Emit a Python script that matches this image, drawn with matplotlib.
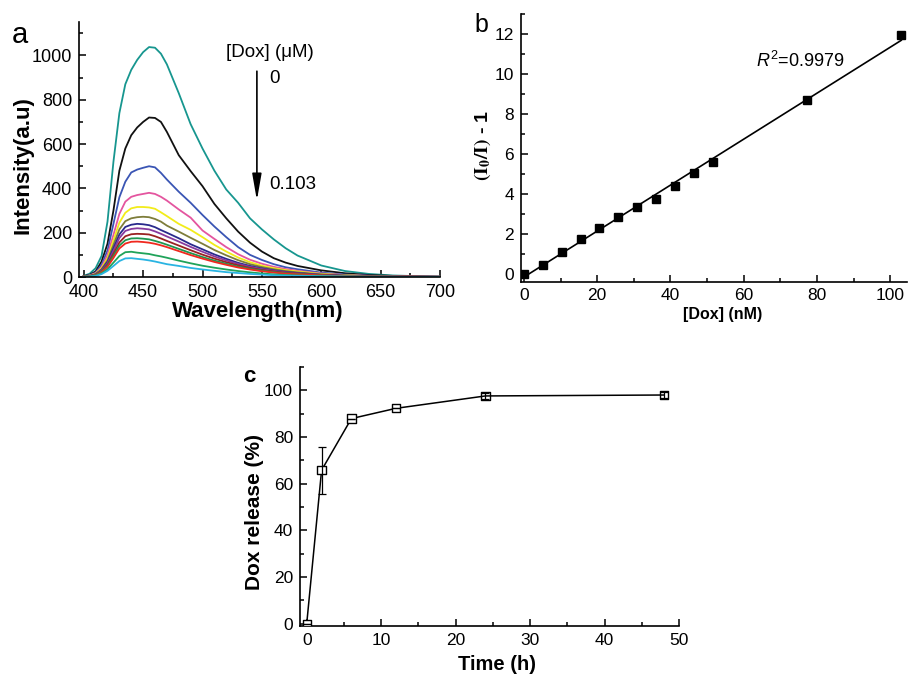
import numpy as np
import matplotlib
matplotlib.use("Agg")
import matplotlib.pyplot as plt
from matplotlib.ticker import MultipleLocator

plt.rcParams['font.family'] = ['Liberation Sans', 'DejaVu Sans']
plt.rcParams['mathtext.fontset'] = 'stix'
plt.rcParams['mathtext.rm'] = 'Liberation Sans'
plt.rcParams['mathtext.it'] = 'Liberation Sans:italic'
plt.rcParams['mathtext.bf'] = 'Liberation Sans:bold'

# ---------------- Panel a data: emission spectra ----------------
wavelength = [400, 405, 410, 415, 420, 425, 430, 435, 440, 445, 450, 455, 460, 465, 470,
              480, 490, 500, 510, 520, 530, 540, 550, 560, 570, 580, 600, 620, 640, 660, 680, 700]

spec_0 = [5, 15, 40, 95, 250, 520, 740, 870, 935, 980, 1015, 1038, 1035, 1008, 960,
          830, 690, 580, 480, 395, 335, 265, 215, 170, 130, 97, 52, 27, 14, 7, 4, 2]
spec_1 = [4, 10, 25, 70, 150, 300, 480, 580, 640, 675, 700, 720, 718, 700, 655,
          550, 478, 410, 330, 265, 205, 155, 115, 85, 65, 50, 30, 17, 9, 5, 3, 1]
spec_2 = [3, 8, 20, 55, 120, 240, 360, 430, 472, 485, 493, 500, 495, 470, 440,
          385, 335, 280, 228, 180, 135, 100, 77, 58, 44, 35, 20, 11, 6, 3, 2, 1]
spec_3 = [3, 7, 17, 45, 100, 190, 285, 340, 362, 370, 375, 380, 375, 362, 345,
          305, 268, 210, 172, 135, 103, 78, 60, 46, 36, 28, 16, 9, 5, 3, 2, 1]
spec_4 = [2, 6, 15, 40, 85, 165, 245, 290, 310, 316, 316, 314, 308, 292, 275,
          240, 213, 180, 145, 115, 88, 67, 51, 40, 31, 25, 14, 8, 4, 2, 1, 1]
spec_5 = [2, 5, 13, 35, 75, 145, 215, 252, 265, 270, 272, 270, 262, 250, 232,
          205, 177, 150, 122, 98, 76, 58, 45, 35, 27, 21, 12, 7, 4, 2, 1, 1]
spec_6 = [2, 5, 12, 32, 68, 130, 192, 226, 236, 240, 238, 234, 225, 212, 200,
          175, 148, 125, 102, 82, 64, 50, 39, 30, 23, 18, 10, 6, 3, 2, 1, 1]
spec_7 = [2, 5, 11, 30, 62, 118, 176, 208, 217, 220, 218, 215, 206, 195, 183,
          160, 136, 114, 93, 75, 59, 46, 36, 28, 21, 16, 9, 5, 3, 2, 1, 1]
spec_8 = [2, 4, 10, 27, 56, 105, 156, 184, 193, 195, 194, 192, 184, 174, 163,
          142, 121, 101, 83, 67, 53, 41, 32, 25, 19, 15, 8, 5, 3, 2, 1, 1]
spec_9 = [2, 4, 9, 25, 51, 95, 142, 166, 174, 175, 173, 170, 163, 155, 146,
          127, 108, 90, 74, 60, 47, 37, 29, 22, 17, 13, 7, 4, 2, 1, 1, 0]
spec_10 = [2, 4, 8, 22, 46, 86, 129, 151, 159, 160, 158, 155, 150, 143, 135,
           117, 99, 83, 68, 55, 43, 34, 26, 20, 15, 12, 7, 4, 2, 1, 1, 0]
spec_11 = [1, 3, 7, 17, 35, 65, 95, 112, 114, 110, 107, 104, 98, 93, 87,
           74, 62, 51, 42, 34, 27, 21, 16, 12, 9, 7, 4, 2, 1, 1, 0, 0]
spec_12 = [1, 2, 5, 13, 28, 50, 72, 84, 85, 82, 79, 75, 70, 64, 58,
           50, 41, 34, 28, 22, 18, 14, 11, 8, 6, 5, 3, 2, 1, 1, 0, 0]

spectra = [spec_0, spec_1, spec_2, spec_3, spec_4, spec_5, spec_6, spec_7,
           spec_8, spec_9, spec_10, spec_11, spec_12]
spec_colors = ['#17968f', '#111111', '#3a55b4', '#e4559f', '#f2ec1a', '#7e7d3a',
               '#2a2a8c', '#873a9e', '#9a2222', '#1e9650', '#f0281e', '#20a35a', '#2ab4e2']

# ---------------- Panel b data: Stern-Volmer ----------------
dox_nM = [0, 5.15, 10.3, 15.45, 20.6, 25.75, 30.9, 36.05, 41.2, 46.35, 51.5, 77.25, 103]
quench = [0.0, 0.45, 1.09, 1.72, 2.28, 2.83, 3.33, 3.75, 4.37, 5.05, 5.57, 8.69, 11.98]

# ---------------- Panel c data: release ----------------
time_h = [0, 2, 6, 12, 24, 48]
release = [0, 65.8, 87.9, 92.3, 97.6, 98.0]
release_err = [0, 10.1, 0, 0, 1.3, 1.3]

fig = plt.figure(figsize=(9.08, 6.74), dpi=100)

def style(ax, size):
    for s in ['top', 'right']:
        ax.spines[s].set_visible(False)
    for s in ['left', 'bottom']:
        ax.spines[s].set_linewidth(1.2)
    ax.tick_params(which='both', direction='in', width=1.1, labelsize=size, pad=5)
    ax.tick_params(which='major', length=5)
    ax.tick_params(which='minor', length=3)

# Panel a
axa = fig.add_axes([0.087, 0.589, 0.3976, 0.378])
for sp, c in zip(spectra, spec_colors):
    axa.plot(wavelength, sp, color=c, lw=1.3)
axa.set_xlim(396, 700)
axa.set_ylim(0, 1150)
axa.xaxis.set_major_locator(MultipleLocator(50))
axa.xaxis.set_minor_locator(MultipleLocator(25))
axa.yaxis.set_major_locator(MultipleLocator(200))
axa.yaxis.set_minor_locator(MultipleLocator(100))
style(axa, 13)
axa.set_xlabel('Wavelength(nm)', fontsize=16, fontweight='bold')
axa.set_ylabel('Intensity(a.u)', fontsize=16, fontweight='bold')
axa.xaxis.set_label_coords(0.496, -0.095)
axa.yaxis.set_label_coords(-0.125, 0.44)
axa.text(519.5, 1015, '[Dox] (\u03bcM)', fontsize=13.5, va='center', ha='left')
axa.text(556, 894, '0', fontsize=13.5, va='center', ha='left')
axa.text(556, 418, '0.103', fontsize=13.5, va='center', ha='left')
axa.annotate('', xy=(545.8, 346), xytext=(545.8, 929),
             arrowprops=dict(arrowstyle='-|>,head_length=1.6,head_width=0.28',
                             color='black', lw=1.2, mutation_scale=10,
                             shrinkA=0, shrinkB=0))

# Panel b
axb = fig.add_axes([0.5738, 0.5823, 0.4252, 0.3967])
axb.plot(dox_nM, quench, 's', color='black', ms=6)
slope, intercept = np.polyfit(dox_nM, quench, 1)
xfit = np.array([dox_nM[0], dox_nM[-1]])
axb.plot(xfit, slope * xfit + intercept, color='black', lw=1.2)
axb.set_xlim(-0.8, 104.6)
axb.set_ylim(-0.4, 13.0)
axb.xaxis.set_major_locator(MultipleLocator(20))
axb.xaxis.set_minor_locator(MultipleLocator(10))
axb.yaxis.set_major_locator(MultipleLocator(2))
axb.yaxis.set_minor_locator(MultipleLocator(1))
style(axb, 12.5)
axb.set_xlabel('[Dox] (nM)', fontsize=11.5, fontweight='bold')
axb.set_ylabel(r'$\mathbf{(I_0/I)}$ - 1', fontsize=14, fontweight='bold')
axb.xaxis.set_label_coords(0.523, -0.095)
axb.yaxis.set_label_coords(-0.0725, 0.51)
axb.text(63.4, 10.66, r'$R^{2}$=0.9979', fontsize=13, va='center', ha='left',
         math_fontfamily='custom')

# Panel c
axc = fig.add_axes([0.3304, 0.0717, 0.4174, 0.3838])
axc.plot(time_h, release, '-', color='black', lw=1.1, zorder=2)
face = ['white', 'white', 'white', 'white', 'none', 'none']
axc.scatter(time_h, release, marker='s', s=36, facecolors=face,
            edgecolors='black', linewidths=1.0, zorder=3)
axc.errorbar(time_h, release, yerr=release_err, fmt='none', ecolor='black',
             elinewidth=0.9, capsize=3, capthick=0.9, zorder=4)
axc.set_xlim(-0.9, 50)
axc.set_ylim(-0.8, 110)
axc.xaxis.set_major_locator(MultipleLocator(10))
axc.xaxis.set_minor_locator(MultipleLocator(5))
axc.yaxis.set_major_locator(MultipleLocator(20))
axc.yaxis.set_minor_locator(MultipleLocator(10))
style(axc, 12.5)
axc.set_xlabel('Time (h)', fontsize=14.5, fontweight='bold')
axc.set_ylabel('Dox release (%)', fontsize=15, fontweight='bold')
axc.xaxis.set_label_coords(0.52, -0.115)
axc.yaxis.set_label_coords(-0.096, 0.44)

# Panel letters
fig.text(0.022, 0.948, 'a', fontsize=21, ha='center', va='center')
fig.text(0.530, 0.963, 'b', fontsize=18, ha='center', va='center')
fig.text(0.275, 0.441, 'c', fontsize=16, fontweight='bold', ha='center', va='center')

fig.savefig('out.png', dpi=100)
